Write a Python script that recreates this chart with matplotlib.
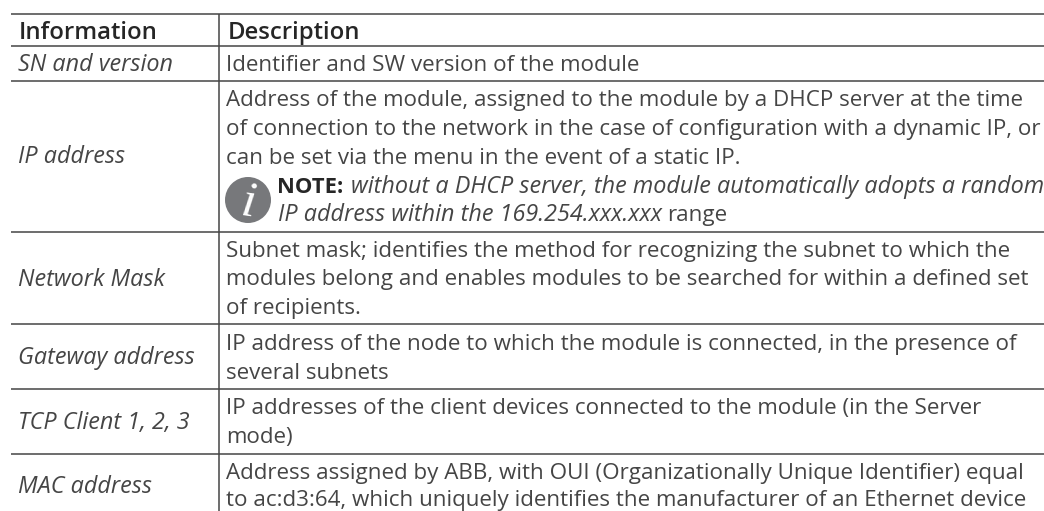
import matplotlib
matplotlib.use("Agg")
import matplotlib.pyplot as plt
from matplotlib.patches import Circle

plt.rcParams['font.family'] = ['Open Sans', 'DejaVu Sans']

# table content
headers = ["Information", "Description"]
info = ["SN and version", "IP address", "Network Mask", "Gateway address", "TCP Client 1, 2, 3", "MAC address"]
desc_1 = ["Identifier and SW version of the module"]
desc_2 = ["Address of the module, assigned to the module by a DHCP server at the time",
          "of connection to the network in the case of configuration with a dynamic IP, or",
          "can be set via the menu in the event of a static IP."]
desc_3 = ["Subnet mask; identifies the method for recognizing the subnet to which the",
          "modules belong and enables modules to be searched for within a defined set",
          "of recipients."]
desc_4 = ["IP address of the node to which the module is connected, in the presence of",
          "several subnets"]
desc_5 = ["IP addresses of the client devices connected to the module (in the Server",
          "mode)"]
desc_6 = ["Address assigned by ABB, with OUI (Organizationally Unique Identifier) equal",
          "to ac:d3:64, which uniquely identifies the manufacturer of an Ethernet device"]

# baselines in pixels
rule_y = [14, 46, 81, 232, 324, 389, 454]
info_y = [71, 163, 286, 364, 429, 493]
desc_y = [[71], [106, 135, 164], [257, 285, 314], [350, 379], [414, 443], [479, 506]]
fs = 16.1
fs_it = 16.8
fs_head = 17.2
col = '#454545'

fig = plt.figure(figsize=(10.44, 5.11), dpi=100)
ax = fig.add_axes([0, 0, 1, 1])
ax.set_xlim(0, 1044)
ax.set_ylim(511, 0)
ax.axis('off')

for y in rule_y:
    ax.plot([11, 1044], [y, y], color='#454545', lw=1.1, solid_capstyle='butt')
ax.plot([219, 219], [14, 511], color='#454545', lw=1.1, solid_capstyle='butt')

ax.text(19, 39, headers[0], fontsize=fs_head, fontweight='semibold', color='#262626', va='baseline')
ax.text(228, 39, headers[1], fontsize=fs_head, fontweight='semibold', color='#262626', va='baseline')

for name, y in zip(info, info_y):
    ax.text(18, y, name, fontsize=fs_it, style='italic', color=col, va='baseline')

for lines, ys in zip([desc_1, desc_2, desc_3, desc_4, desc_5, desc_6], desc_y):
    for s, y in zip(lines, ys):
        ax.text(226, y, s, fontsize=fs, color=col, va='baseline')

# info icon
ax.add_patch(Circle((248, 200), 23, color='#77787b', lw=0))
ax.text(248, 217, "i", fontsize=37, family='Liberation Serif', style='italic', color='white', ha='center', va='baseline', rotation=-8)

# note, mixed weights on one line
def chain(x, y, parts):
    r = fig.canvas.get_renderer()
    for s, size, gap, kw in parts:
        t = ax.text(x, y, s, fontsize=size, va='baseline', **kw)
        x = t.get_window_extent(r).x1 + gap

chain(277, 193, [("NOTE:", 15.8, 8, dict(fontweight='bold', color='#262626')),
                 ("without a DHCP server, the module automatically adopts a random", fs_it, 0, dict(style='italic', color=col))])
chain(278, 221, [("IP address within the 169.254.xxx.xxx", fs_it, 5, dict(style='italic', color=col)),
                 ("range", fs, 0, dict(color=col))])

fig.savefig("out.png", dpi=100)
